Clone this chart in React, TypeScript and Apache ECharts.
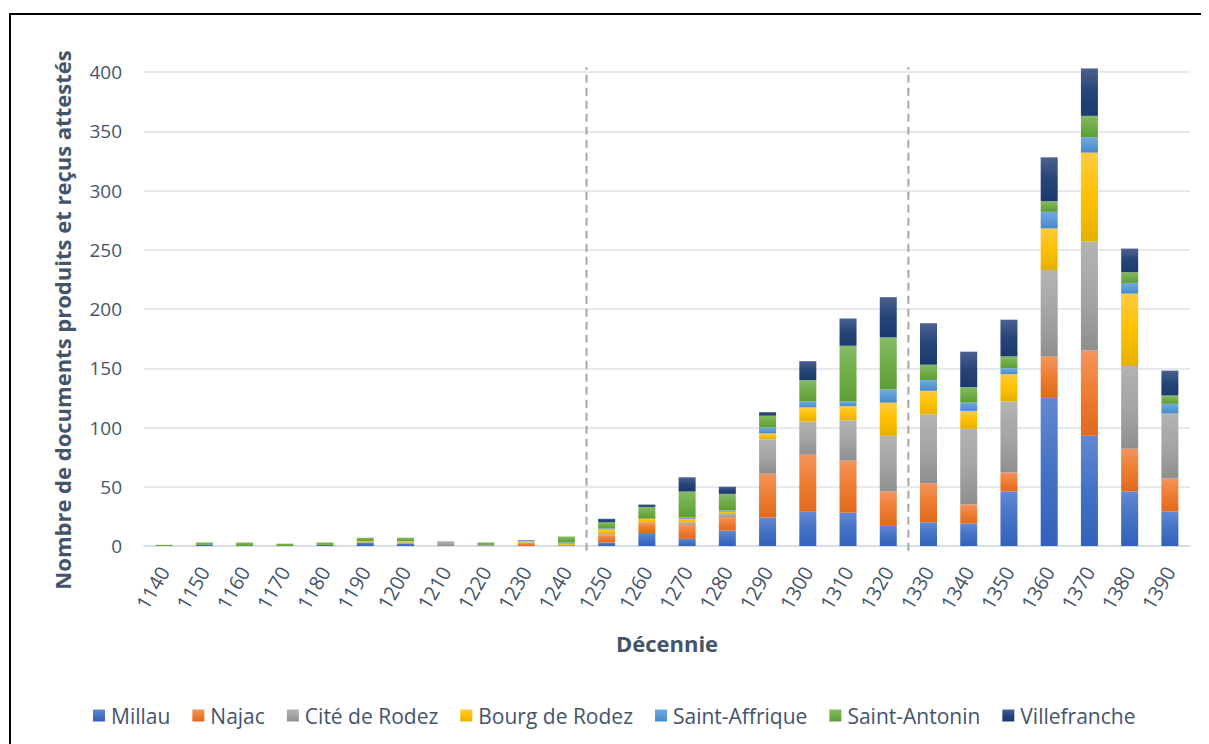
import React, { useEffect, useRef } from "react";
import * as echarts from "echarts";

const decades = ["1140","1150","1160","1170","1180","1190","1200","1210","1220","1230","1240","1250","1260","1270","1280","1290","1300","1310","1320","1330","1340","1350","1360","1370","1380","1390"];

const millau =      [0,1,0,0,1,3,2,0,0,0,0, 3,11,6,13,24,29,28,17, 20,19,46,125,93,46,29];
const najac =       [0,0,0,0,0,0,0,0,0,2,0, 6,9,12,11,37,48,44,29, 33,16,16,35,72,36,28];
const citeRodez =   [0,0,0,0,0,0,1,4,1,1,1, 1,0,2,3,29,28,34,47, 58,64,60,73,92,70,55];
const bourgRodez =  [0,0,0,0,0,1,1,0,0,1,1, 4,3,3,2,5,12,12,28, 20,15,23,35,75,61,0];
const saintAffrique=[0,0,0,0,0,0,0,0,0,1,1, 1,0,1,1,5,5,4,11, 9,7,5,14,13,9,8];
const saintAntonin= [1,2,3,2,2,3,3,0,2,0,5, 5,10,22,14,10,18,47,44, 13,13,10,9,18,9,7];
const villefranche= [0,0,0,0,0,0,0,0,0,0,0, 3,2,12,6,3,16,23,34, 35,30,31,37,40,20,21];

const seriesNames = ["Millau","Najac","Cité de Rodez","Bourg de Rodez","Saint-Affrique","Saint-Antonin","Villefranche"];
const seriesValues = [millau, najac, citeRodez, bourgRodez, saintAffrique, saintAntonin, villefranche];
const seriesGradients = [
  ["#6388d3", "#4472c4", "#3161bd"],
  ["#f4945c", "#ed7d31", "#e0691c"],
  ["#b3b3b3", "#a5a5a5", "#8f8f8f"],
  ["#ffcb40", "#ffc000", "#e6b000"],
  ["#6eaae0", "#5b9bd5", "#468acb"],
  ["#86ba67", "#70ad47", "#5e9e35"],
  ["#4c6190", "#264478", "#1d3a70"],
];

// dashed separators drawn between these pairs of decades
const separatorPairs = [["1240", "1250"], ["1320", "1330"]];
const separatorRange = [-4, 404];

const TEXT = "#44546A";
const FONT = "'Open Sans', sans-serif";

export default function App() {
  const ref = useRef<HTMLDivElement>(null);
  useEffect(() => {
    if (!ref.current) return;
    const chart = echarts.init(ref.current, undefined, { renderer: "svg" });
    const bars = seriesNames.map((name, i) => ({
      name,
      type: "bar",
      stack: "total",
      barWidth: 17,
      clip: false,
      data: seriesValues[i],
      itemStyle: {
        color: {
          type: "linear", x: 0, y: 0, x2: 0, y2: 1,
          colorStops: [
            { offset: 0, color: seriesGradients[i][0] },
            { offset: 0.5, color: seriesGradients[i][1] },
            { offset: 1, color: seriesGradients[i][2] },
          ],
        },
      },
    }));
    const baseGraphic: any[] = [
      {
        id: "ytitle",
        type: "text",
        x: 54,
        y: 312,
        rotation: Math.PI / 2,
        style: {
          text: "Nombre de documents produits et reçus attestés",
          fill: TEXT,
          fontSize: 22,
          fontWeight: "bold",
          fontFamily: FONT,
          align: "center",
          verticalAlign: "middle",
        },
      },
      {
        id: "border",
        type: "rect",
        shape: { x: 2, y: 6, width: 1500, height: 1000 },
        style: { fill: "none", stroke: "#000", lineWidth: 2 },
        silent: true,
      },
    ];
    chart.setOption({
      animation: false,
      textStyle: { fontFamily: FONT },
      grid: { left: 136, right: 19, top: 64, bottom: 198 },
      xAxis: {
        type: "category",
        data: decades,
        axisLine: { lineStyle: { color: "#d9dde4", width: 2 } },
        axisTick: { show: false },
        axisLabel: { rotate: 60, color: TEXT, fontSize: 20, margin: 22, interval: 0, fontFamily: FONT },
        name: "Décennie",
        nameLocation: "middle",
        nameGap: 86,
        nameTextStyle: { fontWeight: "bold", fontSize: 22, color: TEXT, fontFamily: FONT },
      },
      yAxis: {
        type: "value",
        min: 0,
        max: 400,
        interval: 50,
        axisLine: { show: false },
        axisTick: { show: false },
        splitLine: { lineStyle: { color: "#dde1e8", width: 1.5 } },
        axisLabel: { color: TEXT, fontSize: 19, margin: 22, fontFamily: FONT },
      },
      legend: {
        data: seriesNames,
        left: 80,
        top: 692,
        icon: "rect",
        itemWidth: 12,
        itemHeight: 12,
        itemGap: 22,
        textStyle: { color: TEXT, fontSize: 21, fontFamily: FONT, padding: [0, 0, 0, 1] },
      },
      graphic: baseGraphic,
      series: bars,
    });
    const lines = separatorPairs.map(([a, b], k) => {
      const xa = chart.convertToPixel({ xAxisIndex: 0 }, a) as number;
      const xb = chart.convertToPixel({ xAxisIndex: 0 }, b) as number;
      const x = (xa + xb) / 2;
      const y1 = chart.convertToPixel({ yAxisIndex: 0 }, separatorRange[0]) as number;
      const y2 = chart.convertToPixel({ yAxisIndex: 0 }, separatorRange[1]) as number;
      return {
        id: "sep" + k,
        type: "line",
        shape: { x1: x, y1, x2: x, y2 },
        style: { stroke: "#a6a6a6", lineWidth: 2, lineDash: [8, 5] },
        silent: true,
        z: 10,
      };
    });
    chart.setOption({ graphic: [...baseGraphic, ...lines] });
    return () => chart.dispose();
  }, []);
  return <div ref={ref} style={{ width: 1201, height: 736 }} />;
}
